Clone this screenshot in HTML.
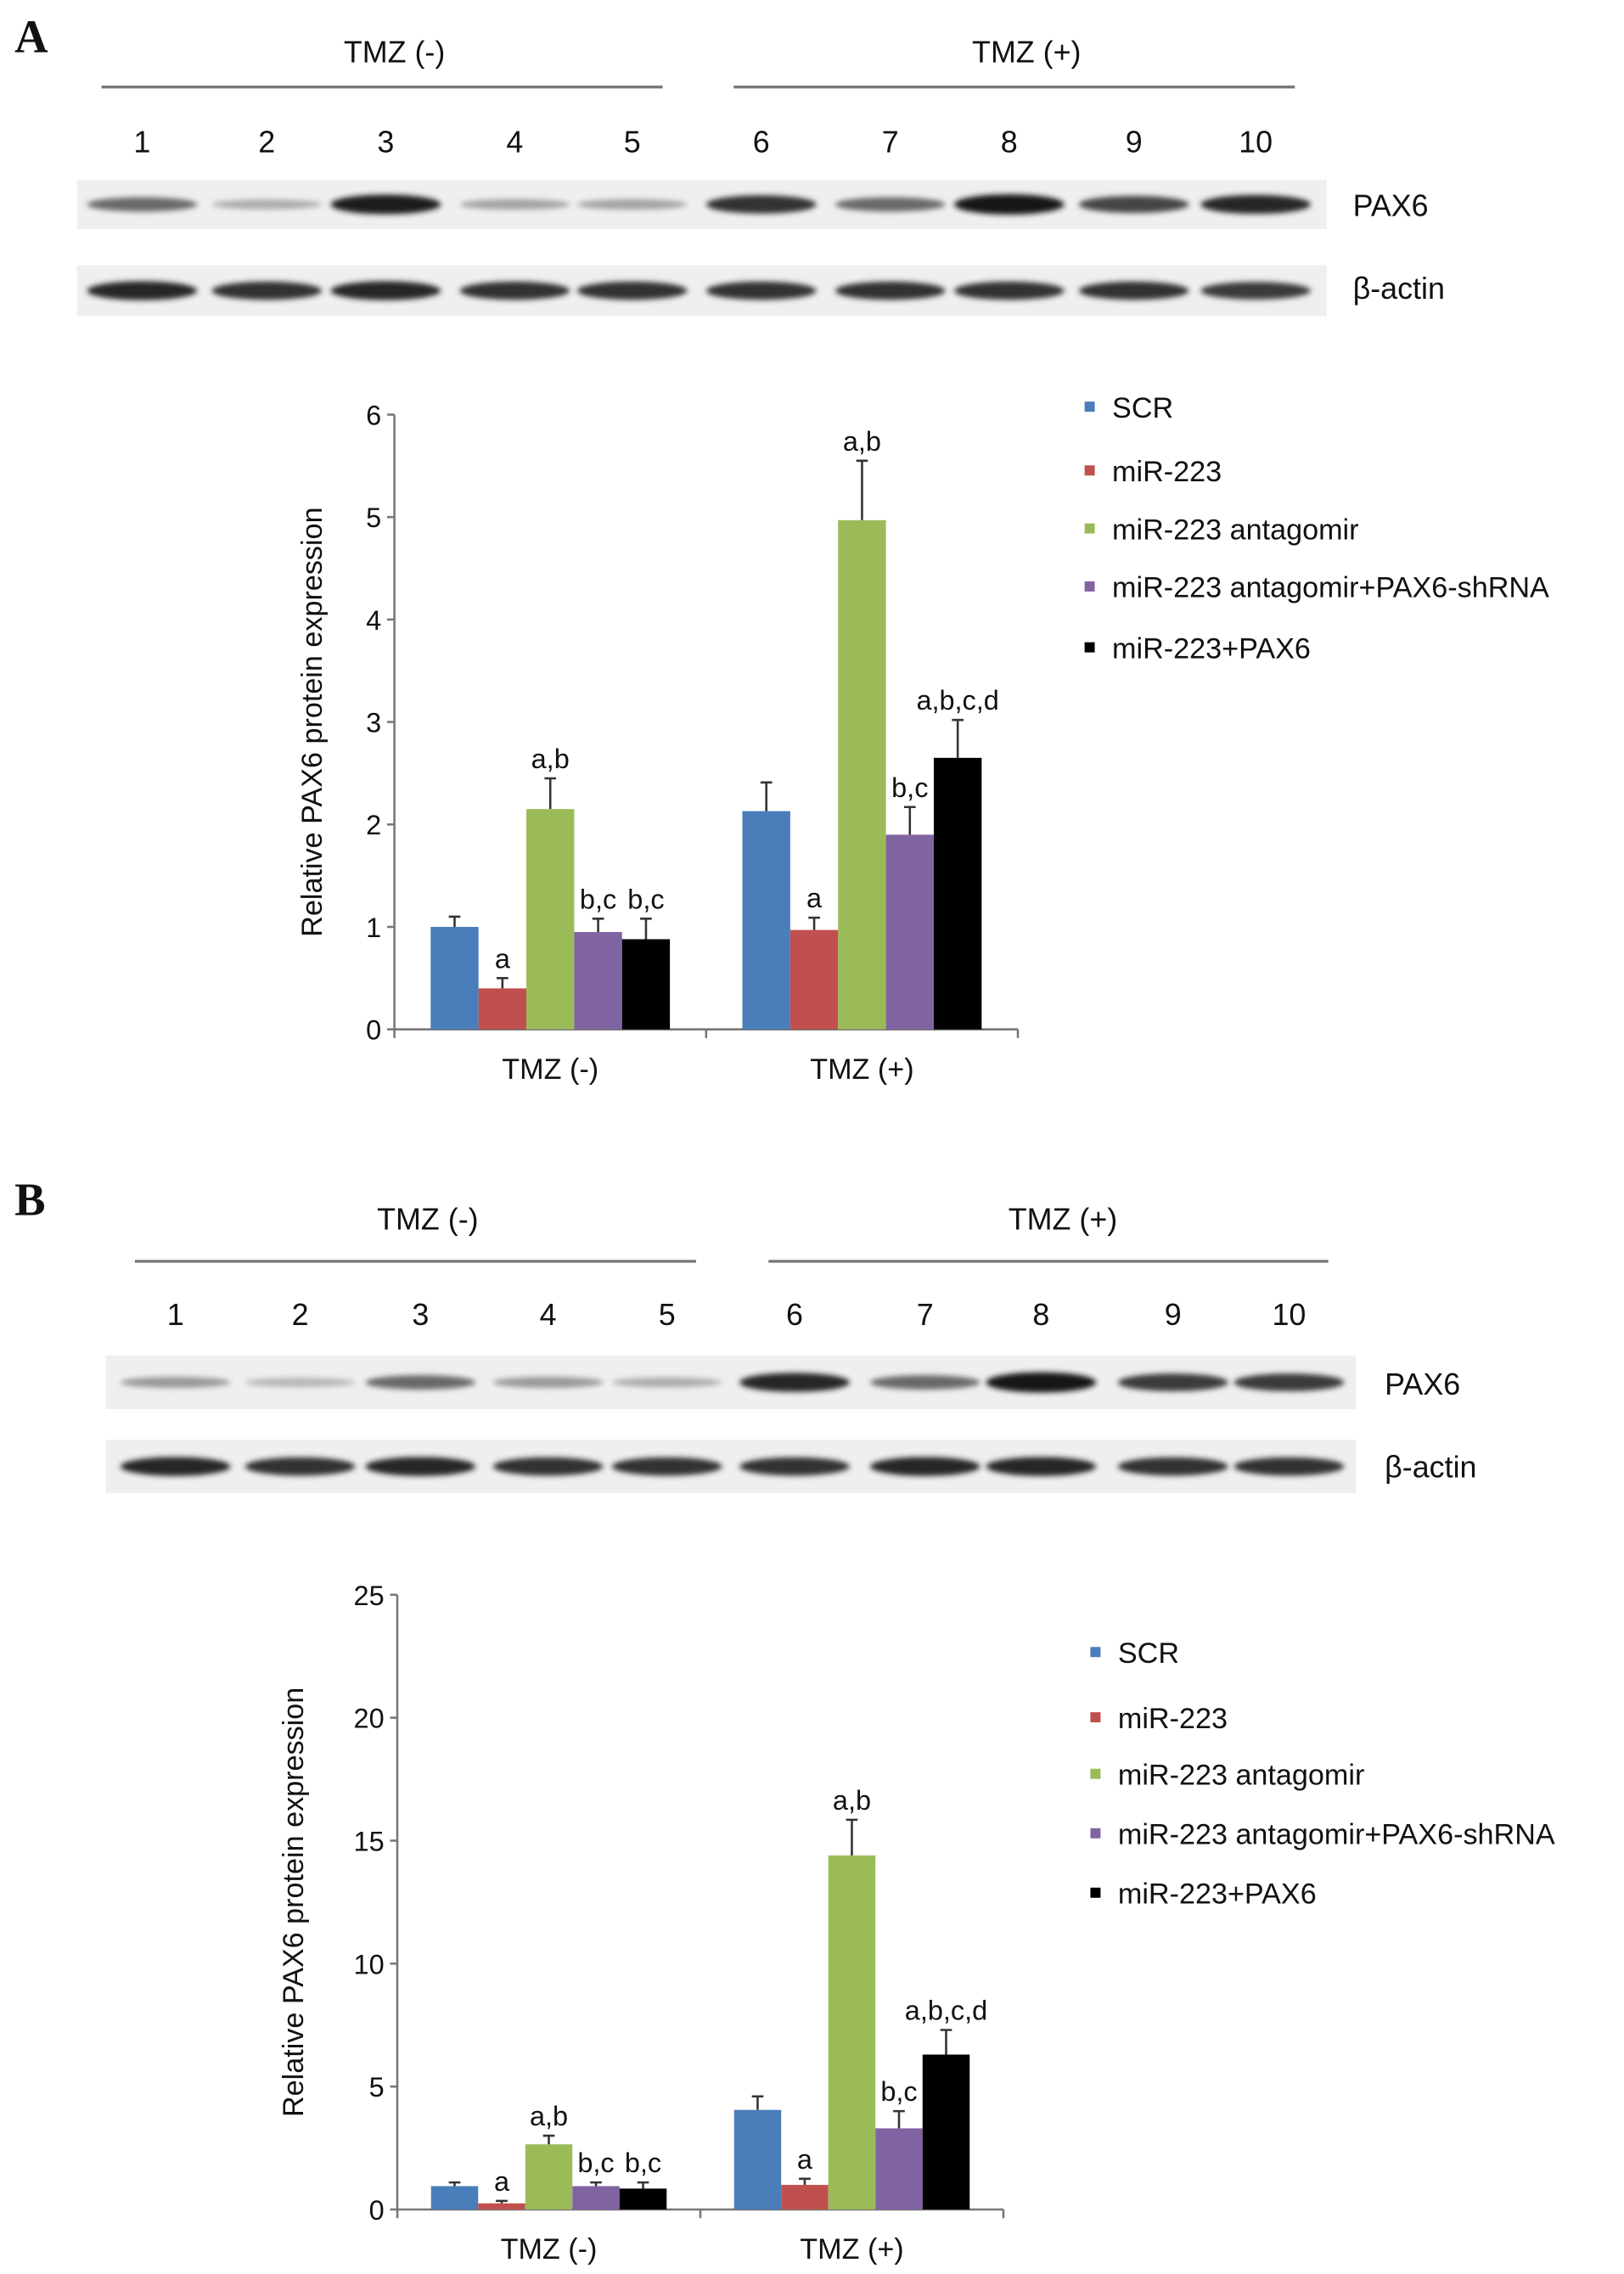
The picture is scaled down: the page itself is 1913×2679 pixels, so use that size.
<!DOCTYPE html>
<html><head><meta charset="utf-8">
<style>
html,body{margin:0;padding:0;background:#fff;}
svg{display:block;font-family:"Liberation Sans",Arial,sans-serif;}
</style></head>
<body>
<svg id="fig" width="1913" height="2679" viewBox="0 0 1120 1568.5" xmlns="http://www.w3.org/2000/svg">
<defs>
<filter id="blur" x="-20%" y="-100%" width="140%" height="300%"><feGaussianBlur stdDeviation="1.8"/></filter>
</defs>
</svg>
<script>
// ---- data ----
const categories = ["TMZ (-)", "TMZ (+)"];
const seriesNames = ["SCR", "miR-223", "miR-223 antagomir", "miR-223 antagomir+PAX6-shRNA", "miR-223+PAX6"];
const seriesColors = ["#4a7ebb", "#c0504d", "#9bbb59", "#8064a2", "#000000"];
const annotations = [["", "a", "a,b", "b,c", "b,c"], ["", "a", "a,b", "b,c", "a,b,c,d"]];
const laneLabels = ["1","2","3","4","5","6","7","8","9","10"];

const valuesA = [[1.0, 0.4, 2.15, 0.95, 0.88], [2.13, 0.97, 4.97, 1.9, 2.65]];
const errorsA = [[0.1, 0.1, 0.3, 0.13, 0.2], [0.28, 0.12, 0.58, 0.27, 0.37]];
const ticksA = [0, 1, 2, 3, 4, 5, 6];

const valuesB = [[0.95, 0.25, 2.65, 0.95, 0.85], [4.05, 1.0, 14.4, 3.3, 6.3]];
const errorsB = [[0.15, 0.1, 0.35, 0.15, 0.25], [0.55, 0.25, 1.45, 0.7, 1.0]];
const ticksB = [0, 5, 10, 15, 20, 25];

const paxA = [0.55, 0.2, 0.95, 0.25, 0.25, 0.85, 0.55, 1.0, 0.75, 0.9];
const actinA = [0.9, 0.85, 0.9, 0.85, 0.85, 0.85, 0.85, 0.85, 0.85, 0.8];
const paxB = [0.3, 0.15, 0.55, 0.3, 0.2, 0.9, 0.55, 1.0, 0.8, 0.8];
const actinB = [0.9, 0.85, 0.9, 0.85, 0.85, 0.85, 0.9, 0.9, 0.85, 0.85];

const NS = "http://www.w3.org/2000/svg";
const svg = document.getElementById("fig");
function mk(tag, attrs, parent) {
  const e = document.createElementNS(NS, tag);
  for (const k in attrs) e.setAttribute(k, attrs[k]);
  (parent || svg).appendChild(e);
  return e;
}
function txt(x, y, s, size, parent, anchor, extra) {
  const t = mk("text", Object.assign({x: x, y: y, "font-size": size, "text-anchor": anchor || "middle", fill: "#111"}, extra || {}), parent);
  t.textContent = s;
  return t;
}

function panel(cfg) {
  const g = mk("g", {});
  
  
  const L = mk("text", {x: 10, y: cfg.letterY, "font-size": 32, "font-weight": "bold", "font-family": "Liberation Serif, serif", fill: "#111"}, g);
  L.textContent = cfg.letter;
  
  
  cfg.headers.forEach((h, i) => {
    const t = txt(h.cx, cfg.headY, categories[i], 21, g);
    
    
    const ln = mk("line", {x1: h.x1, x2: h.x2, y1: cfg.lineY, y2: cfg.lineY, stroke: "#777", "stroke-width": 2}, g);
    
    
  });
  laneLabels.forEach((s, i) => {
    const t = txt(cfg.laneX[i], cfg.numY, s, 21, g);
    
    
  });
  [[cfg.pax, cfg.paxY, "PAX6", cfg.paxStrip], [cfg.actin, cfg.actY, "β-actin", cfg.actStrip]].forEach((b, bi) => {
    const st = mk("rect", {x: cfg.stripX1, y: b[3][0], width: cfg.stripX2 - cfg.stripX1, height: b[3][1] - b[3][0], fill: "#efefef"}, g);
    
    
    const cy = (b[3][0] + b[3][1]) / 2;
    b[0].forEach((v, i) => {
      const gray = Math.round(210 - v * 190);
      const e = mk("ellipse", {cx: cfg.laneX[i], cy: cy, rx: 38, ry: 2.5 + v * 4.5, fill: "rgb(" + gray + "," + gray + "," + gray + ")", filter: "url(#blur)"}, g);
      
      
    });
    const t = txt(cfg.blotLabelX, b[1], b[2], 21, g, "start");
    
    
  });
  const c = cfg.chart;
  const yScale = v => c.y0 - (v / c.max) * (c.y0 - c.yTop);
  const ax = mk("g", {}, g);
  
  
  mk("line", {x1: c.x0, x2: c.x0, y1: c.yTop, y2: c.y0, stroke: "#777", "stroke-width": 1.5}, ax);
  cfg.ticks.forEach(t => {
    const y = yScale(t);
    mk("line", {x1: c.x0 - 5, x2: c.x0, y1: y, y2: y, stroke: "#777", "stroke-width": 1.5}, ax);
    const tl = txt(c.x0 - 9, y + 7, String(t), 19, ax, "end");
    
    
  });
  const xa = mk("g", {}, g);
  
  
  mk("line", {x1: c.x0, x2: c.x1, y1: c.y0, y2: c.y0, stroke: "#777", "stroke-width": 1.5}, xa);
  const gw = (c.x1 - c.x0) / categories.length;
  for (let i = 0; i <= categories.length; i++) {
    mk("line", {x1: c.x0 + gw * i, x2: c.x0 + gw * i, y1: c.y0, y2: c.y0 + 6, stroke: "#777", "stroke-width": 1.5}, xa);
  }
  categories.forEach((cat, ci) => {
    const t = txt(c.x0 + gw * (ci + 0.5), c.y0 + 34, cat, 20, xa);
    
    
  });
  const yt = txt(0, 0, "Relative PAX6 protein expression", 20, g, "middle", {transform: "translate(" + c.titleX + "," + ((c.yTop + c.y0) / 2) + ") rotate(-90)"});
  
  
  const bw = c.barW;
  categories.forEach((cat, ci) => {
    const start = c.x0 + gw * ci + (gw - bw * seriesNames.length) / 2;
    cfg.values[ci].forEach((v, si) => {
      const x = start + si * bw;
      const y = yScale(v);
      const r = mk("rect", {x: x, y: y, width: bw, height: c.y0 - y, fill: seriesColors[si]}, g);
      
      
      const ye = yScale(v + cfg.errors[ci][si]);
      const cx = x + bw / 2;
      const eb = mk("path", {d: "M" + cx + " " + y + "V" + ye + "M" + (cx - 4) + " " + ye + "H" + (cx + 4), stroke: "#333", "stroke-width": 1.5, fill: "none"}, g);
      
      
      const a = annotations[ci][si];
      if (a) {
        const at = txt(cx, ye - 7, a, 19, g);
        
        
      }
    });
  });
  seriesNames.forEach((n, si) => {
    const lg = mk("g", {}, g);
    
    
    const y = cfg.legendY[si];
    mk("rect", {x: cfg.legendX, y: y - 11, width: 7, height: 7, fill: seriesColors[si]}, lg);
    txt(cfg.legendX + 19, y, n, 20, lg, "start");
  });
}

panel({
  id: "panel-a", letter: "A", letterY: 36,
  headers: [{cx: 272, x1: 70, x2: 457}, {cx: 708, x1: 506, x2: 893}],
  headY: 43, lineY: 60, numY: 105,
  laneX: [98, 184, 266, 355, 436, 525, 614, 696, 782, 866],
  stripX1: 53, stripX2: 915, paxStrip: [124, 158], actStrip: [183, 218],
  pax: paxA, actin: actinA, paxY: 149, actY: 206, blotLabelX: 933,
  chart: {x0: 272, x1: 702, y0: 710, yTop: 286, max: 6, barW: 33, titleX: 222},
  ticks: ticksA, values: valuesA, errors: errorsA,
  legendX: 748, legendY: [288, 332, 372, 412, 454]
});
panel({
  id: "panel-b", letter: "B", letterY: 838,
  headers: [{cx: 295, x1: 93, x2: 480}, {cx: 733, x1: 530, x2: 916}],
  headY: 848, lineY: 870, numY: 914,
  laneX: [121, 207, 290, 378, 460, 548, 638, 718, 809, 889],
  stripX1: 73, stripX2: 935, paxStrip: [935, 972], actStrip: [993, 1030],
  pax: paxB, actin: actinB, paxY: 962, actY: 1019, blotLabelX: 955,
  chart: {x0: 274, x1: 692, y0: 1524, yTop: 1100, max: 25, barW: 32.5, titleX: 209},
  ticks: ticksB, values: valuesB, errors: errorsB,
  legendX: 752, legendY: [1147, 1192, 1231, 1272, 1313]
});
</script>
</body></html>
